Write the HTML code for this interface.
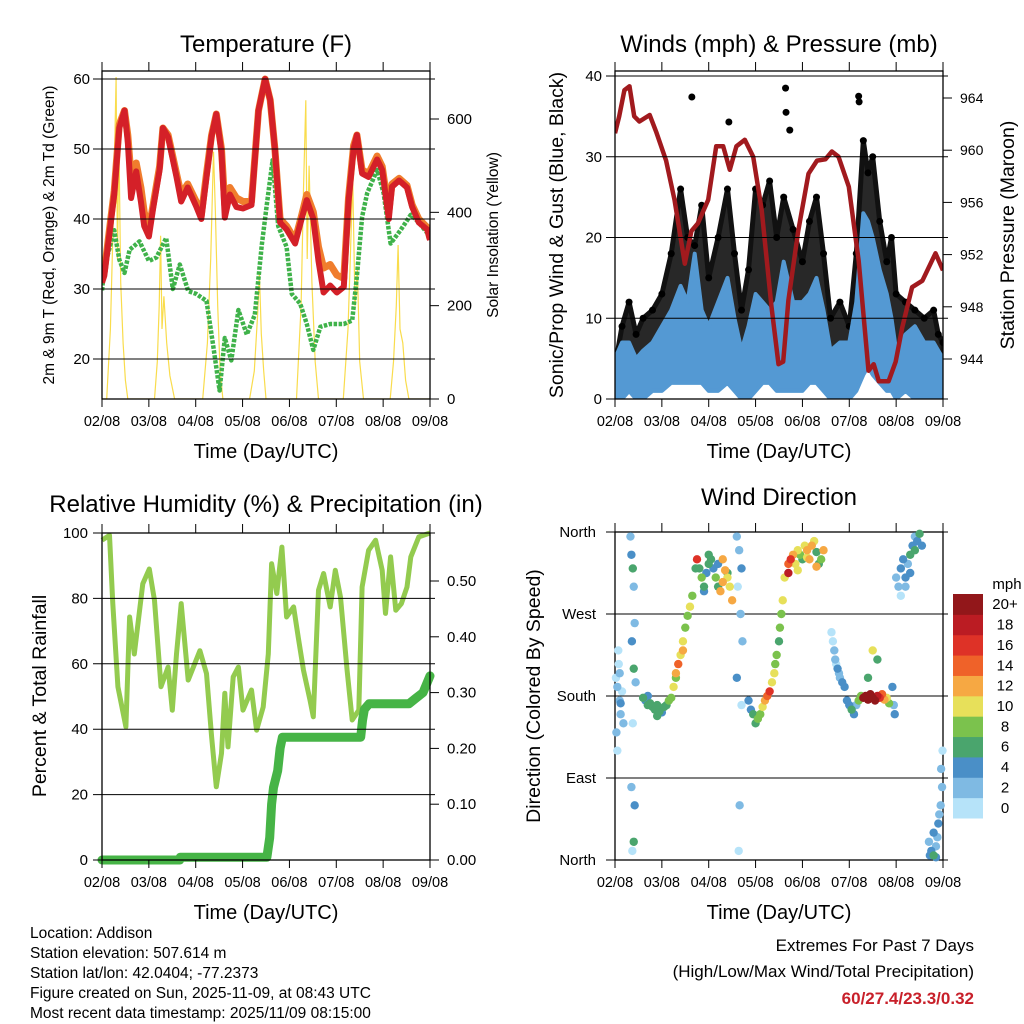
<!DOCTYPE html>
<html><head><meta charset="utf-8">
<style>
html,body{margin:0;padding:0;background:#fff;}
svg{display:block;font-family:"Liberation Sans",Arial,sans-serif;}
</style></head>
<body>
<svg id="chart" width="1024" height="1024" viewBox="0 0 1024 1024" xmlns="http://www.w3.org/2000/svg">
<rect width="1024" height="1024" fill="#fff"/>
<g id="layer"></g>
<text x="266" y="52" font-size="24" text-anchor="middle">Temperature (F)</text>
<text x="779" y="52" font-size="24" text-anchor="middle">Winds (mph) &amp; Pressure (mb)</text>
<text x="266" y="512" font-size="24" text-anchor="middle">Relative Humidity (%) &amp; Precipitation (in)</text>
<text x="779" y="505" font-size="24" text-anchor="middle">Wind Direction</text>
<text x="266" y="458" font-size="20" text-anchor="middle">Time (Day/UTC)</text>
<text x="779" y="458" font-size="20" text-anchor="middle">Time (Day/UTC)</text>
<text x="266" y="919" font-size="20" text-anchor="middle">Time (Day/UTC)</text>
<text x="779" y="919" font-size="20" text-anchor="middle">Time (Day/UTC)</text>
<text transform="translate(54,235) rotate(-90)" font-size="15.5" text-anchor="middle">2m &amp; 9m T (Red, Orange) &amp; 2m Td (Green)</text>
<text transform="translate(498,235) rotate(-90)" font-size="15.5" text-anchor="middle">Solar Insolation (Yellow)</text>
<text transform="translate(563,235) rotate(-90)" font-size="19.5" text-anchor="middle">Sonic/Prop Wind &amp; Gust (Blue, Black)</text>
<text transform="translate(1014,235) rotate(-90)" font-size="19.5" text-anchor="middle">Station Pressure (Maroon)</text>
<text transform="translate(46,696) rotate(-90)" font-size="19.5" text-anchor="middle">Percent &amp; Total Rainfall</text>
<text transform="translate(540,696) rotate(-90)" font-size="19.5" text-anchor="middle">Direction (Colored By Speed)</text>
<g font-size="15.5">
<text x="30" y="938">Location: Addison</text>
<text x="30" y="958">Station elevation: 507.614 m</text>
<text x="30" y="978">Station lat/lon: 42.0404; -77.2373</text>
<text x="30" y="998">Figure created on Sun, 2025-11-09, at 08:43 UTC</text>
<text x="30" y="1018">Most recent data timestamp: 2025/11/09 08:15:00</text>
</g>
<text x="974" y="951" font-size="17" text-anchor="end">Extremes For Past 7 Days</text>
<text x="974" y="977" font-size="17" text-anchor="end">(High/Low/Max Wind/Total Precipitation)</text>
<text x="974" y="1004" font-size="17" font-weight="bold" fill="#c8202a" text-anchor="end">60/27.4/23.3/0.32</text>
</svg>
<script>
// ---------- data ----------
const dayLabels = ['02/08','03/08','04/08','05/08','06/08','07/08','08/08','09/08'];
// Temperature panel
const tempT  = [0,0.05,0.26,0.37,0.48,0.55,0.62,0.73,0.83,0.9,1.0,1.09,1.23,1.3,1.41,1.59,1.69,1.83,2.01,2.12,2.23,2.34,2.44,2.55,2.62,2.73,2.87,3.01,3.19,3.34,3.48,3.59,3.69,3.8,3.94,4.12,4.26,4.37,4.51,4.62,4.73,4.87,5.01,5.16,5.26,5.37,5.44,5.55,5.69,5.87,5.98,6.12,6.19,6.34,6.51,6.62,6.76,6.94,7.0];
const redT   = [30.9,31.9,43.5,53,55.5,51,43,46.8,42.5,39,37.5,41.5,47,53,51.7,46,42.5,44.5,41.8,40,46,51.8,55,49.5,40.2,43.5,41.7,41.5,42,55.5,60,57,50,39.5,38.5,36.5,40,42.7,40,34,29.5,30.5,29.5,30.3,42.5,50,52,46.5,46,48.5,47,40,44.6,45.5,44.5,41.7,39.5,38.5,37];
const orangeT= [33,32.5,44,53.5,55.5,52,46,48,44.5,41,38.5,42,47.5,53,52,46.5,43.5,45,42.5,40.5,46.5,52,55,50,42,44.5,43,42.5,42.5,55.5,60,57,50,40,39,37,40.5,43.5,41,36,33,33.5,32,31.5,43,50.5,52,47,46.5,49,47.5,41,45,45.8,44.8,42,40,38.8,37.2];
const dewT   = [0,0.05,0.26,0.37,0.48,0.59,0.8,1.0,1.16,1.37,1.51,1.66,1.84,2.01,2.23,2.37,2.51,2.62,2.76,2.91,3.09,3.26,3.41,3.51,3.64,3.76,3.94,4.05,4.23,4.37,4.51,4.66,4.87,5.16,5.34,5.44,5.55,5.66,5.87,6.01,6.16,6.37,6.59,6.76,7.0];
const dewV   = [29.8,33,38.4,34.2,32.3,35.6,36.8,34,34.5,37.3,30,33.5,29.7,29.3,28.3,22,15.5,23,19.8,27,23.5,26.3,36.3,41.7,48.4,39,36,29.3,27.9,25,21.3,24.6,25,25,25.5,31.8,40.3,43.7,47,43.7,36.5,38.4,40.6,39.5,37.5];
const solarT = [0,0.1,0.18,0.24,0.3,0.33,0.36,0.4,0.45,0.5,0.55,1.12,1.18,1.22,1.25,1.28,1.32,1.38,1.45,1.55,2.15,2.25,2.32,2.38,2.42,2.47,2.52,2.58,3.15,3.25,3.32,3.36,3.4,3.45,3.5,4.15,4.25,4.3,4.35,4.38,4.42,4.48,4.55,4.62,5.15,5.25,5.3,5.35,5.4,5.45,5.5,5.58,6.15,6.22,6.28,6.32,6.36,6.42,6.48,6.55,7.0];
const solarV = [0,0,150,380,690,300,560,250,120,40,0,0,80,200,350,150,220,120,50,0,0,120,300,530,400,200,60,0,0,60,180,270,140,60,0,0,200,450,640,300,500,250,80,0,0,150,300,475,200,280,80,0,0,80,200,330,150,120,40,0,0];
const tempTicks = [20,30,40,50,60];
const solarTicks = [0,200,400,600];
// Winds panel
const windT  = [0,0.15,0.3,0.45,0.6,0.8,1.0,1.2,1.4,1.55,1.7,1.85,2.0,2.2,2.4,2.55,2.7,2.85,3.0,3.15,3.3,3.45,3.6,3.8,4.0,4.15,4.3,4.45,4.6,4.8,5.0,5.15,5.3,5.4,5.5,5.65,5.8,5.9,6.0,6.2,6.4,6.6,6.8,6.9,7.0];
const gustHi = [4,9,12,8,10,11,13,18,26,20,19,24,15,20,26,18,11,16,26,24,27,20,25,21,17,22,25,18,10,12,9,18,32,28,30,22,17,20,13,12,11,10,11,8,7];
const gustLo = [1,3,5,4,4,5,6,8,10,9,9,9,7,8,9,7,4,5,9,9,10,8,8,8,6,7,8,6,3,4,3,6,12,12,11,9,6,5,4,4,4,3,4,3,2];
const windHi = [5,7,7,5,6,7,9,11,14,12,18,11,9,12,15,10,6,9,13,12,11,12,17,12,12,13,15,11,6,7,7,12,23,22,20,16,13,10,6,8,9,7,7,6,5];
const windLo = [0,0,1,0,0,1,1,2,2,2,2,2,1,1,2,1,0,0,1,2,2,1,1,1,1,2,2,1,0,0,0,1,3,4,3,2,1,1,0,1,0,0,0,0,0];
const gustOutT = [1.64,2.43,3.64,3.65,3.73,5.2,5.21];
const gustOutV = [37.4,34.3,38.5,35.5,33.3,37.5,36.8];
const presT = [0,0.09,0.2,0.31,0.41,0.52,0.74,0.88,1.09,1.27,1.49,1.63,1.77,1.99,2.16,2.31,2.45,2.59,2.77,2.95,3.13,3.34,3.49,3.59,3.7,3.91,4.13,4.31,4.49,4.63,4.77,4.99,5.2,5.41,5.52,5.63,5.84,5.99,6.13,6.34,6.56,6.84,7.0];
const presV = [961.3,962.6,964.6,964.9,962.6,962.2,962.7,961.4,959.2,956.2,951.3,953.8,954.4,956.2,960.3,960.3,958.5,960.3,960.8,959.5,955.4,948,943.6,943.8,948.5,953.8,958.2,959.2,959.3,959.9,959.5,957.2,951.5,943.1,943.6,942.3,942.3,943.8,946.4,949.5,950,952.1,950.8];
const windTicks = [0,10,20,30,40];
const presTicks = [944,948,952,956,960,964];
// Humidity panel
const rhT = [0,0.16,0.23,0.34,0.51,0.59,0.69,0.87,1.01,1.12,1.26,1.41,1.5,1.59,1.69,1.84,2.09,2.23,2.34,2.44,2.55,2.62,2.69,2.8,2.91,3.01,3.19,3.3,3.44,3.55,3.62,3.73,3.84,3.94,4.09,4.19,4.3,4.44,4.51,4.62,4.73,4.87,4.98,5.09,5.23,5.34,5.48,5.55,5.69,5.84,5.98,6.05,6.16,6.27,6.39,6.51,6.59,6.76,7.0];
const rhV = [97.8,99.3,78.4,53,40.7,74.3,63,84.5,89,79.4,53,59,45.8,63,78.4,55,64,57,37.7,22.4,32.6,51,34.6,56,59,45.8,52,39.7,46.8,63,90.6,81.5,95.7,74.3,77.4,68,58,48.9,43.8,82.5,87.6,77.4,88.6,80.4,58,42.8,45.8,83.5,94.7,97.8,88.6,75.4,92.7,76.4,78.4,83.5,92.7,98.8,100];
const prT = [0,1.66,1.67,3.52,3.58,3.62,3.66,3.75,3.8,3.85,5.52,5.56,5.6,5.7,6.55,6.7,6.85,6.95,7.0];
const prV = [0,0,0.005,0.005,0.04,0.1,0.13,0.16,0.2,0.22,0.22,0.25,0.27,0.28,0.28,0.29,0.3,0.32,0.33];
const rhTicks = [0,20,40,60,80,100];
const prTicks = [0,0.1,0.2,0.3,0.4,0.5];
// Wind direction panel
const dirT = [0.02,0.05,0.08,0.1,0.12,0.15,0.03,0.07,0.1,0.18,0.05,0.12,
 0.33,0.35,0.38,0.4,0.42,0.36,0.4,0.44,0.38,0.35,0.42,0.4,0.37,
 0.6,0.65,0.7,0.75,0.8,0.85,0.9,0.95,1.0,1.05,1.1,1.15,0.7,0.9,
 1.2,1.25,1.3,1.35,1.4,1.45,1.5,1.55,1.6,1.65,1.3,1.45,
 1.75,1.8,1.85,1.9,1.95,2.0,2.05,2.1,2.15,2.2,2.25,2.3,2.35,2.4,2.45,2.5,1.72,1.9,2.0,2.2,2.3,2.4,
 2.6,2.65,2.7,2.62,2.68,2.72,2.6,2.7,2.66,2.64,
 2.85,2.9,2.95,3.0,3.05,3.1,3.15,3.2,3.25,3.3,
 3.35,3.4,3.42,3.45,3.5,3.52,3.55,3.58,
 3.62,3.7,3.75,3.8,3.85,3.9,3.95,4.0,4.05,4.1,4.15,4.2,4.25,4.3,4.35,4.4,4.45,3.7,3.9,4.1,4.3,
 4.62,4.65,4.68,4.7,4.72,4.75,4.78,4.8,4.85,4.9,
 4.95,5.0,5.05,5.1,5.15,5.2,5.25,
 5.3,5.35,5.4,5.45,5.5,5.55,5.6,5.65,5.7,5.75,5.8,5.85,5.4,5.6,5.5,
 5.92,5.95,5.97,
 6.0,6.05,6.1,6.15,6.2,6.25,6.3,6.35,6.4,6.45,6.5,6.55,6.1,6.2,6.3,6.4,
 6.7,6.75,6.8,6.85,6.9,6.95,6.98,6.72,6.8,6.88,6.92,6.96,6.99,6.85];
const dirV = [200,190,215,175,160,185,140,230,205,150,120,172,
 355,335,320,300,260,240,210,195,150,80,60,20,10,
 178,175,170,172,168,165,170,163,162,168,170,175,180,158,
 178,190,205,215,225,240,255,268,278,290,200,230,
 330,320,310,300,315,325,330,320,310,300,295,305,318,310,300,285,320,295,335,325,330,315,
 355,340,320,300,270,240,200,170,60,10,
 175,165,160,150,155,160,168,175,180,185,
 195,205,215,225,240,255,270,285,
 310,325,330,335,325,340,335,330,345,340,330,345,350,338,325,330,340,315,318,332,322,
 250,240,230,220,215,210,205,200,195,190,
 175,170,165,160,170,175,180,
 178,180,176,182,178,175,180,178,182,176,178,172,200,220,230,
 190,170,160,
 310,300,320,330,310,325,335,345,355,350,358,345,290,300,315,340,
 20,10,5,15,40,60,80,5,30,25,50,100,120,3];
const dirS = [1,2,1,3,2,1,2,1,3,2,1,4,
 3,4,6,3,2,4,6,3,1,2,4,6,1,
 6,5,6,7,6,6,7,6,5,6,7,8,4,6,
 9,10,12,14,11,10,9,8,10,9,8,12,
 16,6,8,6,5,7,6,5,8,6,12,12,13,10,11,12,6,4,7,5,12,6,
 2,3,4,1,2,3,4,1,2,1,
 5,4,6,7,8,9,10,12,15,16,
 11,10,9,8,7,8,9,10,
 10,14,16,12,10,11,8,6,10,12,12,13,11,7,6,8,12,18,10,11,12,
 1,1,2,3,1,4,2,3,4,5,
 4,5,6,4,3,8,9,
 20,22,21,20,23,21,19,16,14,12,10,8,7,6,10,
 4,3,4,
 3,2,4,5,4,3,6,4,3,5,6,4,1,3,4,7,
 2,4,6,3,4,2,3,5,4,2,3,2,1,4];
const dirTicks = [0,90,180,270,360];
const dirTickLabels = ['North','East','South','West','North'];
const speedBins = [0,2,4,6,8,10,12,14,16,18,20];
const speedLabels = ['0','2','4','6','8','10','12','14','16','18','20+'];
const speedColors = ['#b6e3f9','#7fbae3','#4a8fc7','#4aa56d','#7bc24d','#e7e05a','#f6a843','#ef6229','#de3227','#bb1c23','#92171a'];

// ---------- helpers ----------
const NS = 'http://www.w3.org/2000/svg';
const layer = document.getElementById('layer');
function mk(parent, tag, name, attrs){
  const el = document.createElementNS(NS, tag);
  for (const k in attrs) el.setAttribute(k, attrs[k]);
  
  
  parent.appendChild(el);
  return el;
}
function lin(d0,d1,r0,r1){ return v => r0 + (v-d0)*(r1-r0)/(d1-d0); }
function pts(xs, ys, fx, fy){ return xs.map((t,i)=>fx(t).toFixed(1)+','+fy(ys[i]).toFixed(1)).join(' '); }

function frame(name, x0, x1, top, bot){
  const g = mk(layer,'g',name+'-axes',{});
  const fx = lin(0,7,x0,x1);
  dayLabels.forEach((lab,i)=>{
    const x = fx(i);
    mk(g,'line',name+'-x-tick',{x1:x,x2:x,y1:bot,y2:bot+8,stroke:'#000','stroke-width':1});
    mk(g,'line',name+'-x-tick-top',{x1:x,x2:x,y1:top-9,y2:top,stroke:'#000','stroke-width':1});
    const t = mk(g,'text',name+'-x-tick-label',{x:x,y:bot+27,'font-size':14.5,'text-anchor':'middle'});
    t.textContent = lab;
  });
  mk(g,'rect',name+'-frame',{x:x0,y:top,width:x1-x0,height:bot-top,fill:'none',stroke:'#000','stroke-width':1.3});
  return g;
}
function gridY(g,name,vals,fy,x0,x1,labels,labelX,anchor,fs){
  vals.forEach((v,i)=>{
    const y = fy(v);
    mk(g,'line',name+'-gridline',{x1:x0-9,x2:x1+5,y1:y,y2:y,stroke:'#000','stroke-width':1});
    if(labels){
      const t = mk(g,'text',name+'-tick-label',{x:labelX,y:y+5,'font-size':fs||15,'text-anchor':anchor});
      t.textContent = labels[i];
    }
  });
}
function rightTicks(g,name,vals,fy,x1,labels,fs){
  vals.forEach((v,i)=>{
    const y = fy(v);
    mk(g,'line',name+'-tick',{x1:x1,x2:x1+9,y1:y,y2:y,stroke:'#000','stroke-width':1});
    const t = mk(g,'text',name+'-tick-label',{x:x1+17,y:y+5,'font-size':fs||15,'text-anchor':'start'});
    t.textContent = labels[i];
  });
}

// ---------- Panel 1: Temperature ----------
(function(){
  const x0=102,x1=430,top=71,bot=399;
  const fx = lin(0,7,x0,x1), fy = lin(60,20,79,359), fs = lin(0,600,399,119);
  const clip = mk(layer,'clipPath','temp-clip',{id:'c1'});
  mk(clip,'rect','temp-clip-rect',{x:x0,y:top,width:x1-x0,height:bot-top});
  const g = mk(layer,'g','temperature-plot',{'clip-path':'url(#c1)'});
  mk(g,'polyline','solar-line',{points:pts(solarT,solarV,fx,fs),fill:'none',stroke:'#f9dc4c','stroke-width':1.2});
  mk(g,'polyline','dewpoint-line',{points:pts(dewT,dewV,fx,fy),fill:'none',stroke:'#3fb24a','stroke-width':4.5,'stroke-dasharray':'3.5 1.5','stroke-linejoin':'round'});
  mk(g,'polyline','temp-9m-line',{points:pts(tempT,orangeT,fx,fy),fill:'none',stroke:'#f07d2d','stroke-width':7,'stroke-linejoin':'round'});
  mk(g,'polyline','temp-2m-line',{points:pts(tempT,redT,fx,fy),fill:'none',stroke:'#d42028','stroke-width':6,'stroke-linejoin':'round'});
  const a = frame('temp',x0,x1,top,bot);
  gridY(a,'temp-y',tempTicks,fy,x0,x1,tempTicks.map(String),90,'end');
  rightTicks(a,'solar-y',solarTicks,fs,x1,solarTicks.map(String));
})();

// ---------- Panel 2: Winds & Pressure ----------
(function(){
  const x0=615,x1=943,top=71,bot=399;
  const fx = lin(0,7,x0,x1), fy = lin(0,40,399,76), fp = lin(964,944,98,359);
  const clip = mk(layer,'clipPath','wind-clip',{id:'c2'});
  mk(clip,'rect','wind-clip-rect',{x:x0,y:top,width:x1-x0,height:bot-top});
  const g = mk(layer,'g','winds-plot',{'clip-path':'url(#c2)'});
  const band = (hi,lo)=> pts(windT,hi,fx,fy)+' '+pts(windT.slice().reverse(),lo.slice().reverse(),fx,fy);
  mk(g,'polygon','gust-band',{points:band(gustHi,gustLo),fill:'#111',stroke:'#111','stroke-width':5,'stroke-linejoin':'round','fill-opacity':0.9});
  windT.forEach((t,i)=>{
    mk(g,'circle','gust-point',{cx:fx(t),cy:fy(gustHi[i]),r:3.5,fill:'#000'});
  });
  gustOutT.forEach((t,i)=>{
    mk(g,'circle','gust-outlier',{cx:fx(t),cy:fy(gustOutV[i]),r:3.5,fill:'#000'});
  });
  mk(g,'polygon','wind-band',{points:band(windHi,windLo),fill:'#5499d3',stroke:'#5499d3','stroke-width':4,'stroke-linejoin':'round'});
  mk(g,'polyline','pressure-line',{points:pts(presT,presV,fx,fp),fill:'none',stroke:'#a11a1e','stroke-width':4.5,'stroke-linejoin':'round'});
  const a = frame('wind',x0,x1,top,bot);
  gridY(a,'wind-y',windTicks,fy,x0,x1,windTicks.map(String),602,'end');
  rightTicks(a,'pressure-y',presTicks,fp,x1,presTicks.map(String),14);
})();

// ---------- Panel 3: Humidity & Precip ----------
(function(){
  const x0=102,x1=430,top=533,bot=860;
  const fx = lin(0,7,x0,x1), fy = lin(0,100,860,533), fp = lin(0,0.5,860,581);
  const clip = mk(layer,'clipPath','rh-clip',{id:'c3'});
  mk(clip,'rect','rh-clip-rect',{x:x0-6,y:top-6,width:x1-x0+12,height:bot-top+12});
  const g = mk(layer,'g','humidity-plot',{'clip-path':'url(#c3)'});
  mk(g,'polyline','humidity-line',{points:pts(rhT,rhV,fx,fy),fill:'none',stroke:'#93cb4f','stroke-width':5,'stroke-linejoin':'round'});
  mk(g,'polyline','precip-line',{points:pts(prT,prV,fx,fp),fill:'none',stroke:'#46b446','stroke-width':9,'stroke-linejoin':'round','stroke-linecap':'round'});
  const a = frame('rh',x0,x1,top,bot);
  gridY(a,'rh-y',rhTicks,fy,x0,x1,rhTicks.map(String),88,'end');
  rightTicks(a,'precip-y',prTicks,fp,x1,prTicks.map(v=>v.toFixed(2)));
})();

// ---------- Panel 4: Wind Direction ----------
(function(){
  const x0=615,x1=943,top=532,bot=860;
  const fx = lin(0,7,x0,x1), fy = lin(0,360,860,532);
  const a = frame('dir',x0,x1,top,bot);
  gridY(a,'dir-y',dirTicks,fy,x0,x1,dirTickLabels,596,'end');
  const g = mk(layer,'g','direction-plot',{});
  const colorFor = s => { let k=0; for(let i=0;i<speedBins.length;i++){ if(s>=speedBins[i]) k=i; } return speedColors[k]; };
  const order = dirT.map((t,i)=>i).sort((p,q)=>dirS[p]-dirS[q]);
  order.forEach(i=>{
    mk(g,'circle','direction-point',{cx:fx(dirT[i]),cy:fy(dirV[i]),r:4.2,fill:colorFor(dirS[i])});
  });
  const lg = mk(layer,'g','speed-legend',{});
  const h = 224/speedColors.length;
  speedColors.forEach((c,i)=>{
    const y = 818 - (i+1)*h;
    mk(lg,'rect','legend-swatch',{x:953,y:y,width:30,height:h+0.5,fill:c});
    const t = mk(lg,'text','legend-label',{x:1005,y:y+h/2+5,'font-size':15,'text-anchor':'middle'});
    t.textContent = speedLabels[i];
  });
  const u = mk(lg,'text','legend-unit',{x:1007,y:589,'font-size':15,'text-anchor':'middle'});
  u.textContent = 'mph';
})();
</script>
</body></html>
